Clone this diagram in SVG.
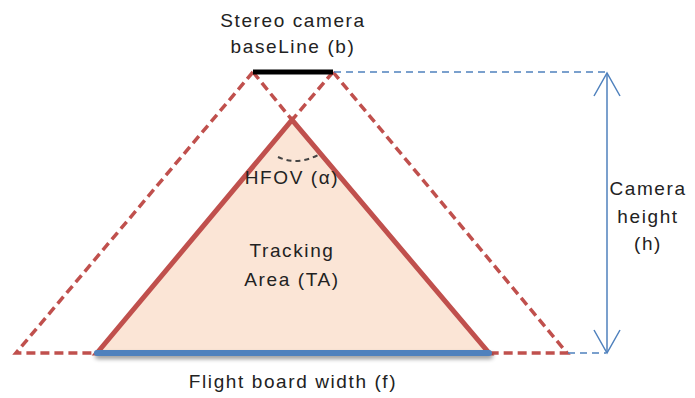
<svg xmlns="http://www.w3.org/2000/svg" width="695" height="398" viewBox="0 0 695 398">
<style>
text{font-family:"Liberation Sans",Arial,sans-serif;font-size:19px;letter-spacing:1.6px;fill:#222;text-anchor:middle}
.red{stroke:#C0504D;fill:none}
.dash{stroke-width:3.5;stroke-dasharray:9 5}
.bdash{stroke:#4F81BD;stroke-width:1.3;stroke-dasharray:7 5;fill:none}
</style>
<defs>
<filter id="sh" filterUnits="userSpaceOnUse" x="80" y="335" width="430" height="40"><feGaussianBlur in="SourceAlpha" stdDeviation="2"/><feOffset dx="1" dy="3"/><feComponentTransfer><feFuncA type="linear" slope="0.4"/></feComponentTransfer><feMerge><feMergeNode/><feMergeNode in="SourceGraphic"/></feMerge></filter>
</defs>
<rect width="695" height="398" fill="#fff"/>
<g id="tracking-area">
<polygon points="97,353 292,120 489,353" fill="#FBE5D6" stroke="#C0504D" stroke-width="5" stroke-linejoin="miter"/>
<path d="M278,157 Q297,166 318,155" fill="none" stroke="#444" stroke-width="2" stroke-dasharray="5 4"/>
<text x="292" y="184">HFOV (α)</text>
<text x="292" y="257">Tracking</text>
<text x="292" y="286">Area (TA)</text>
</g>
<g id="connectors">
<path class="red dash" d="M253,72 L16,353 L97,353"/>
<path class="red dash" d="M253,72 L292,120"/>
<path class="red dash" d="M333,72 L292,120"/>
<path class="red dash" d="M333,72 L567,353 L489,353"/>
<path class="bdash" d="M334,72 L606,72"/>
<path class="bdash" d="M568,353 L606,353"/>
<g stroke="#4F81BD" stroke-width="1.5" fill="none">
<line x1="607" y1="73" x2="607" y2="352"/>
<path d="M594,96 L607,73 L620,96"/>
<path d="M594,330 L607,353 L620,330"/>
</g>
</g>
<g id="baseline">
<line x1="253" y1="72" x2="333" y2="72" stroke="#000" stroke-width="5"/>
<text x="293" y="27">Stereo camera</text>
<text x="293" y="53">baseLine (b)</text>
</g>
<g id="flight-board">
<line x1="97" y1="353" x2="489" y2="353" stroke="#4F81BD" stroke-width="6" stroke-linecap="round" filter="url(#sh)"/>
<text x="293" y="388">Flight board width (f)</text>
</g>
<g id="camera-height">
<text x="648" y="195">Camera</text>
<text x="648" y="223">height</text>
<text x="648" y="250">(h)</text>
</g>
</svg>
